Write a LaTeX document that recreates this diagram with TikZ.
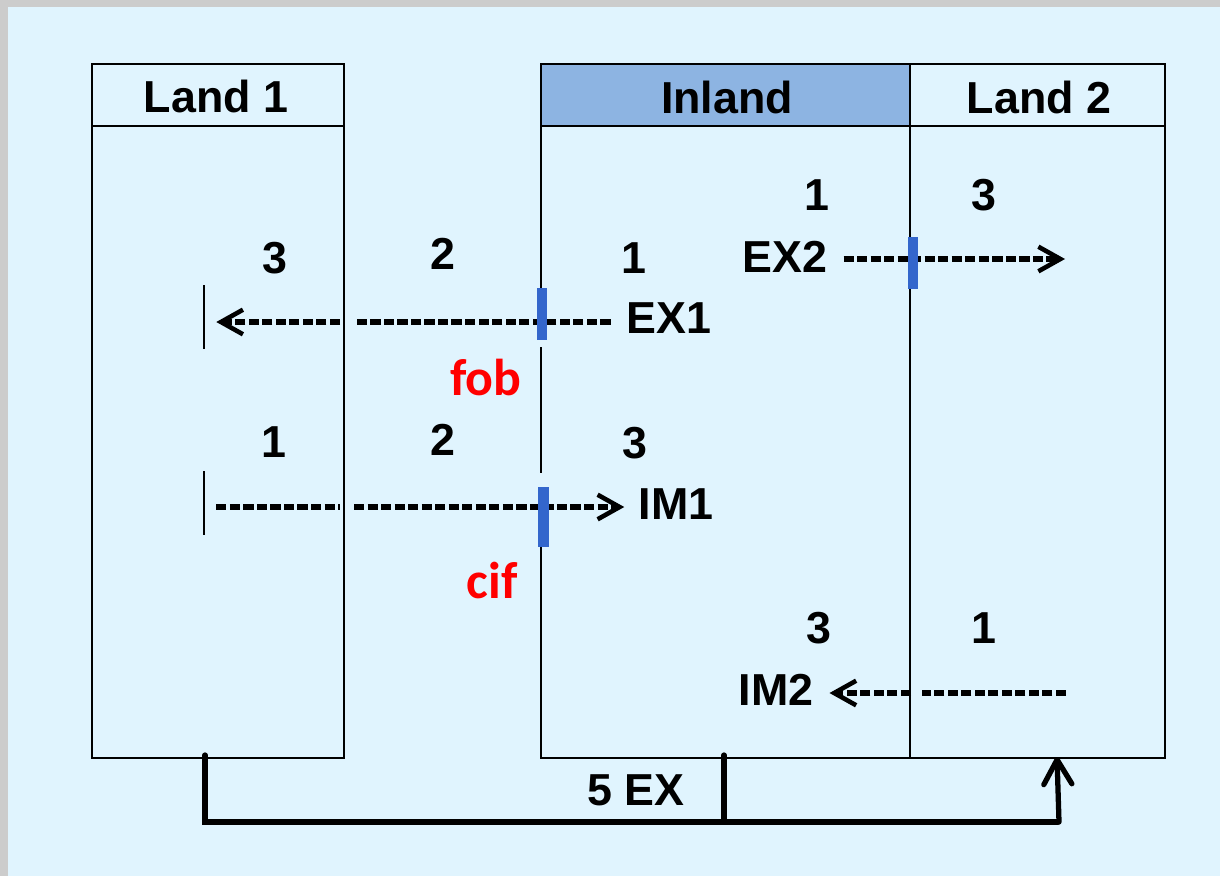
\documentclass[tikz,border=0pt]{standalone}
\usepackage{fontspec}
\setmainfont{Liberation Sans}
\newfontfamily\termfont{Carlito}
\usetikzlibrary{arrows.meta, positioning}
\definecolor{bgblue}{HTML}{E0F4FE}
\definecolor{framegrey}{HTML}{CCCCCC}
\definecolor{headblue}{HTML}{8DB4E2}
\definecolor{barblue}{HTML}{3366CC}

\begin{document}
\begin{tikzpicture}[x=0.02cm, y=-0.02cm,
		box/.style={draw=black, line width=1.6pt},
		lbl/.style={font=\fontsize{25.5}{30}\selectfont\bfseries, inner sep=0pt},
		term/.style={red, font=\termfont\fontsize{29.5}{36}\selectfont\bfseries, inner sep=0pt},
		flow/.style={line width=3.4pt, dash pattern=on 5.8pt off 1.9pt},
		flowtip/.style={flow, -{Straight Barb[length=12.5pt, width=14pt, line width=2.6pt]}},
		trade/.style={line width=3pt, line cap=round},
		border/.style={barblue}]
	% Background
	\fill[framegrey] (0,0) rectangle (1220,876);
	\fill[bgblue] (8,7) rectangle (1220,876);
	\useasboundingbox (0,0) rectangle (1220,876);

	% Countries
	\fill[headblue] (541,64) rectangle (910,126);
	\draw[box] (92,64) rectangle (344,758);
	\draw[box] (92,126) -- (344,126);
	\draw[box] (541,64) rectangle (1165,758);
	\draw[box] (541,126) -- (1165,126);
	\draw[box] (910,64) -- (910,758);
	\fill[bgblue] (535,340) rectangle (548,347);
	\fill[bgblue] (535,473) rectangle (548,487);

	\node[lbl] (land1) at (216,96) {Land 1};
	\node[lbl] (inland) at (727,97) {Inland};
	\node[lbl] (land2) at (1039,97) {Land 2};

	% Step numbers
	\foreach \s/\px/\py [count=\k] in {3/275/258, 2/443/254, 1/634/258,
			1/274/442, 2/443/440, 3/635/443,
			1/817/195, 3/984/195, 3/819/628, 1/984/628}
		\node[lbl] (step\k) at (\px,\py) {\s};

	% Flows
	\node[lbl] (ex1) at (669,318) {EX1};
	\node[lbl] (im1) at (676,504) {IM1};
	\node[lbl] (ex2) at (785,257) {EX2};
	\node[lbl] (im2) at (776,690) {IM2};

	\coordinate (ex1end) at (204,322);
	\coordinate (im1end) at (204,507);
	\draw[box] (204,285) -- (204,349);
	\draw[box] (204,471) -- (204,535);

	\draw[flow] ([xshift=-9pt]ex1.west |- ex1end) -- (354,322);
	\draw[flowtip] (340,322) -- ([xshift=7pt]ex1end);
	\draw[flow] ([xshift=7pt]im1end) -- (340,507);
	\draw[flowtip] (354,507) -- ([xshift=-8pt]im1.west |- im1end);
	\draw[flowtip] ([xshift=9pt]ex2.east |- 0,259) -- (1065,259);
	\draw[flow] (1066,693) -- (922,693);
	\draw[flowtip] (911,693) -- ([xshift=9pt]im2.east |- 0,693);

	% Border crossings
	\fill[border] (537,288) rectangle (547,340);
	\fill[border] (538,487) rectangle (549,547);
	\fill[border] (908,237) rectangle (918,289);
	\node[term] (fob) at (486,377) {fob};
	\node[term] (cif) at (492,580) {cif};

	% Re-export
	\draw[trade] (205,755) -- (205,822) -- (1058,822);
	\draw[trade, -{Straight Barb[round, length=14pt, width=16pt]}] (1059,822) -- (1057,757);
	\draw[trade] (724,755) -- (724,822);
	\node[lbl] (reex) at (636,790) {5 EX};
\end{tikzpicture}
\end{document}
